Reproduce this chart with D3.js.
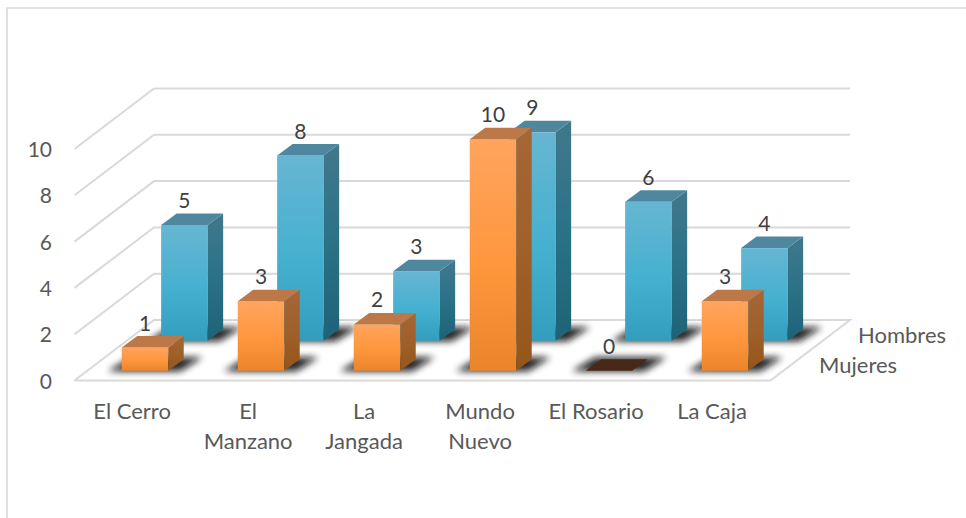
<!DOCTYPE html>
<html><head><meta charset="utf-8">
<script src="https://cdn.jsdelivr.net/npm/d3@7/dist/d3.min.js"></script>
<style>html,body{margin:0;padding:0;background:#fff}svg{display:block}text{font-family:Lato,"Open Sans",sans-serif}</style>
</head><body><svg id="c" width="966" height="518"></svg>
<script>
const categories = [["El Cerro"],["El","Manzano"],["La","Jangada"],["Mundo","Nuevo"],["El Rosario"],["La Caja"]];
const seriesNames = ["Hombres","Mujeres"];
const hombres = [5,8,3,9,6,4];
const mujeres = [1,3,2,10,0,3];
const yTicks = [0,2,4,6,8,10];

const svg = d3.select("#c");
const defs = svg.append("defs");
function grad(id, stops){
  const g = defs.append("linearGradient").attr("id",id).attr("x1",0).attr("y1",0).attr("x2",0).attr("y2",1);
  stops.forEach(s=>g.append("stop").attr("offset",s[0]).attr("stop-color",s[1]));
}
grad("bf",[[0,"#66b6d2"],[0.55,"#46b0d0"],[1,"#329dbc"]]);
grad("bs",[[0,"#41788d"],[0.5,"#2b7287"],[1,"#1e6277"]]);
grad("of",[[0,"#ffa45e"],[0.55,"#fe963c"],[1,"#ea852b"]]);
grad("os",[[0,"#a66636"],[0.5,"#a0602a"],[1,"#93561a"]]);
defs.append("filter").attr("id","blur").attr("x","-40%").attr("y","-120%").attr("width","180%").attr("height","340%")
  .append("feGaussianBlur").attr("stdDeviation",3.6);

// frame
svg.append("path").attr("d","M7 518V8H966").attr("fill","none").attr("stroke","#d9d9d9").attr("stroke-width",1.6);

// scales: x across categories, y by value, depth along the series axis
const xC = d3.scalePoint().domain(d3.range(categories.length)).range([132.1,712.1]);
const y = d3.scaleLinear().domain([0,10]).range([0,231.5]);
const P = (x,v,d)=>[x+79.5*d, 380.5-y(v)-60.5*d];   // project value/depth into the oblique view
const line = d3.line();

const grid = svg.append("g").attr("fill","none").attr("stroke","#d9d9d9").attr("stroke-width",2);
const left=74.5, right=770.5;
yTicks.forEach(t=>{
  grid.append("path").attr("d",line(t===0
    ? [P(left,t,0),P(left,t,1),P(right,t,1),P(right,t,0),P(left,t,0)]
    : [P(left,t,0),P(left,t,1),P(right,t,1)]));
});

// y axis labels
svg.append("g").selectAll("text").data(yTicks).join("text")
  .attr("x",52).attr("y",t=>P(0,t,0)[1]+8).attr("text-anchor","end")
  .attr("font-size",21).attr("fill","#595959").text(t=>t);

// bars
const W=46.5, DX=15.5, DY=11.5;
function bars(vals, baseDepth, F, S, T){
  const g = svg.append("g");
  vals.forEach((v,i)=>{
    const [cx,by] = P(xC(i),0,baseDepth);
    const x0=cx-W/2;
    g.append("path").attr("filter","url(#blur)").attr("fill","#111").attr("opacity",0.9)
      .attr("d",line([[x0-14,by+0.5],[x0+W+12,by+0.5],[x0+W+DX+19,by-DY-2],[x0+DX-6,by-DY-2]])+"Z");
  });
  vals.forEach((v,i)=>{
    const [cx,by] = P(xC(i),0,baseDepth);
    const x0=cx-W/2, top=by-y(v);
    if(v===0){
      g.append("path").attr("fill","#462918").attr("d",line([[x0,by],[x0+W,by],[x0+W+DX,by-DY],[x0+DX,by-DY]])+"Z");
    } else {
      g.append("rect").attr("x",x0).attr("y",top).attr("width",W).attr("height",y(v)).attr("fill",`url(#${F})`);
      g.append("path").attr("fill",`url(#${S})`).attr("d",line([[x0+W,top],[x0+W+DX,top-DY],[x0+W+DX,by-DY],[x0+W,by]])+"Z");
      g.append("path").attr("fill",T).attr("d",line([[x0,top],[x0+DX,top-DY],[x0+W+DX,top-DY],[x0+W,top]])+"Z");
    }
    g.append("text").attr("x",x0+W/2).attr("y",top-DY-5.5).attr("text-anchor","middle")
      .attr("font-size",21).attr("fill","#404040").text(v);
  });
}
const backBase=(340.7-380.5)/-60.5, frontBase=(380.5-370.7)/60.5;
bars(hombres, backBase, "bf","bs","#4f889e");
bars(mujeres, frontBase, "of","os","#bc7847");

// category labels
const lab = svg.append("g");
categories.forEach((c,i)=>{
  const t = lab.append("text").attr("text-anchor","middle").attr("font-size",22).attr("fill","#595959");
  c.forEach((s,k)=>t.append("tspan").attr("x",xC(i)).attr("y",418.5+k*30).text(s));
});
// series labels
svg.append("text").attr("x",858).attr("y",343).attr("font-size",22).attr("fill","#595959").text(seriesNames[0]);
svg.append("text").attr("x",819).attr("y",373).attr("font-size",22).attr("fill","#595959").text(seriesNames[1]);
</script></body></html>
